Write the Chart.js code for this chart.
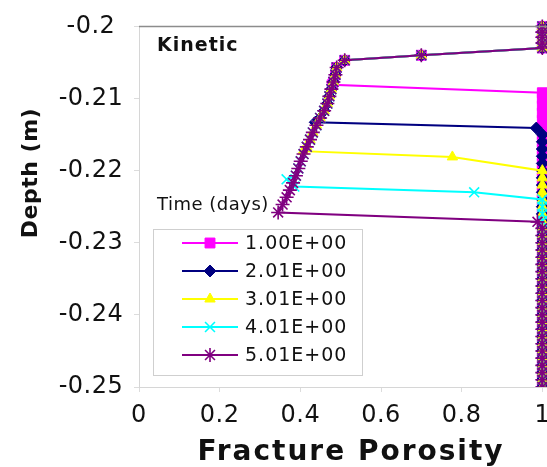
<!DOCTYPE html>
<html>
<head>
<meta charset="utf-8">
<title>Fracture Porosity - Kinetic</title>
<script src="https://cdn.jsdelivr.net/npm/chart.js"></script>
<style>
    html, body { margin: 0; padding: 0; overflow: hidden; background: #fff; }
    #wrap { width: 700px; height: 467px; }
</style>
</head>
<body>
<div id="wrap"><canvas id="porosityChart" width="700" height="467"></canvas></div>
<script>
// ===== Data =====
const seriesLabels = ['1.00E+00', '2.01E+00', '3.01E+00', '4.01E+00', '5.01E+00'];
const xTickValues = [0, 0.2, 0.4, 0.6, 0.8, 1, 1.2];
const yTickValues = [-0.25, -0.24, -0.23, -0.22, -0.21, -0.2];

// shared part near the top (all times overlap here)
const topPorosity = [1, 1, 1, 1, 1, 0.70, 0.51];
const topDepth = [-0.2000, -0.2008, -0.2015, -0.2023, -0.2030, -0.2040, -0.2047];

// shared sloping profile
const slantPorosity = [0.490, 0.487, 0.482, 0.477, 0.472, 0.467, 0.459, 0.449, 0.440, 0.431, 0.424,
    0.416, 0.408, 0.401, 0.395, 0.389, 0.382, 0.374, 0.366, 0.356, 0.345];
const slantDepth = [-0.2057, -0.2067, -0.2077, -0.2087, -0.2097, -0.2107, -0.2117, -0.2127, -0.2137, -0.2147, -0.2157,
    -0.2167, -0.2177, -0.2187, -0.2197, -0.2207, -0.2217, -0.2227, -0.2237, -0.2247, -0.2258];

// front of each time
const front1Porosity = [0.479, 1.0];
const front1Depth = [-0.2081, -0.2092];
const front2Porosity = [0.437, 0.985];
const front2Depth = [-0.2133, -0.2141];
const front3Porosity = [0.407, 0.777, 1.0];
const front3Depth = [-0.2173, -0.2181, -0.2200];
const front4Porosity = [0.366, 0.385, 0.831, 1.0];
const front4Depth = [-0.2212, -0.2222, -0.2230, -0.2240];
const front5Porosity = [0.988];
const front5Depth = [-0.2271];

// porosity = 1 below the front
const columnDepth = [-0.210, -0.211, -0.212, -0.213, -0.214, -0.215, -0.216, -0.217, -0.218, -0.219,
    -0.220, -0.221, -0.222, -0.223, -0.224, -0.225, -0.226, -0.227, -0.228, -0.229,
    -0.230, -0.231, -0.232, -0.233, -0.234, -0.235, -0.236, -0.237, -0.238, -0.239,
    -0.240, -0.241, -0.242, -0.243, -0.244, -0.245, -0.246, -0.247, -0.248, -0.249, -0.250];

const fronts = [
    [front1Porosity, front1Depth],
    [front2Porosity, front2Depth],
    [front3Porosity, front3Depth],
    [front4Porosity, front4Depth],
    [front5Porosity, front5Depth]
];

const colors = ['#ff00ff', '#000080', '#ffff00', '#00ffff', '#800080'];
const styles = ['rect', 'rectRot', 'triangle', 'crossRot', 'star'];
const radii = [7, 6, 6, 7, 7];

function buildPoints(frontPorosity, frontDepth) {
    const pts = [];
    topPorosity.forEach((p, i) => pts.push({ x: p, y: topDepth[i] }));
    slantDepth.forEach((d, i) => {
        if (d > frontDepth[0]) pts.push({ x: slantPorosity[i], y: d });
    });
    frontPorosity.forEach((p, i) => pts.push({ x: p, y: frontDepth[i] }));
    const last = frontDepth[frontDepth.length - 1];
    columnDepth.forEach(d => {
        if (d < last - 0.0004) pts.push({ x: 1, y: d });
    });
    return pts;
}

const datasets = seriesLabels.map((label, i) => ({
    label: label,
    data: buildPoints(fronts[i][0], fronts[i][1]),
    showLine: true,
    borderColor: colors[i],
    backgroundColor: colors[i],
    borderWidth: 2,
    pointStyle: styles[i],
    pointRadius: radii[i],
    pointBorderWidth: (styles[i] === 'crossRot' || styles[i] === 'star') ? 1.6 : 1,
    order: seriesLabels.length - 1 - i,
    clip: { left: 10, top: 10, right: 10, bottom: 0 }
}));

// ===== Extra text, legend and frame =====
const decorPlugin = {
    id: 'decor',
    beforeDraw(chart) {
        chart.ctx.letterSpacing = '0.5px';
    },
    afterDatasetsDraw(chart) {
        const ctx = chart.ctx;
        const area = chart.chartArea;
        ctx.save();

        // top frame line
        ctx.strokeStyle = '#8c8c8c';
        ctx.lineWidth = 1.5;
        ctx.beginPath();
        ctx.moveTo(area.left, area.top);
        ctx.lineTo(area.right, area.top);
        ctx.stroke();

        ctx.fillStyle = '#111';
        ctx.textBaseline = 'middle';
        ctx.textAlign = 'left';
        ctx.letterSpacing = '1px';
        ctx.font = 'bold 19px "DejaVu Sans"';
        ctx.fillText('Kinetic', 157, 46);

        ctx.font = '18px "DejaVu Sans"';
        ctx.letterSpacing = '0.5px';
        ctx.fillText('Time (days)', 157, 205);

        // legend box
        ctx.fillStyle = '#fff';
        ctx.fillRect(153, 229, 209, 146);
        ctx.strokeStyle = '#cfcfcf';
        ctx.lineWidth = 1;
        ctx.strokeRect(153.5, 229.5, 209, 146);

        chart.data.datasets.forEach((ds, i) => {
            const y = 243 + i * 28;
            ctx.strokeStyle = ds.borderColor;
            ctx.fillStyle = ds.backgroundColor;
            ctx.lineWidth = 2;
            ctx.beginPath();
            ctx.moveTo(182, y);
            ctx.lineTo(238, y);
            ctx.stroke();
            ctx.lineWidth = ds.pointBorderWidth;
            if (Chart.helpers && Chart.helpers.drawPoint) {
                Chart.helpers.drawPoint(ctx, {
                    pointStyle: ds.pointStyle,
                    radius: ds.pointRadius,
                    borderWidth: ds.pointBorderWidth,
                    rotation: 0
                }, 210, y);
            }
            ctx.fillStyle = '#111';
            ctx.font = '19px "DejaVu Sans"';
            ctx.letterSpacing = '1px';
            ctx.fillText(ds.label, 245, y + 1);
        });

        // axis titles
        ctx.fillStyle = '#111';
        ctx.textAlign = 'center';
        ctx.textBaseline = 'alphabetic';
        ctx.font = 'bold 28px "DejaVu Sans"';
        ctx.letterSpacing = '2px';
        ctx.fillText('Fracture Porosity', 351, 460);

        ctx.translate(31, 173);
        ctx.rotate(-Math.PI / 2);
        ctx.textBaseline = 'middle';
        ctx.font = 'bold 22px "DejaVu Sans"';
        ctx.letterSpacing = '0.5px';
        ctx.fillText('Depth (m)', 0, 0);
        ctx.restore();
    }
};

document.addEventListener('DOMContentLoaded', function() {
    Chart.defaults.font.family = '"DejaVu Sans", sans-serif';
    Chart.defaults.color = '#111';

    new Chart(document.getElementById('porosityChart'), {
        type: 'scatter',
        data: { datasets: datasets },
        options: {
            responsive: false,
            animation: false,
            layout: { padding: { top: 20, right: 77, left: 0, bottom: 0 } },
            plugins: {
                legend: { display: false },
                tooltip: { enabled: false }
            },
            scales: {
                x: {
                    type: 'linear',
                    min: 0,
                    max: 1.2,
                    afterFit: s => { s.height = 80; },
                    afterBuildTicks: s => { s.ticks = xTickValues.map(v => ({ value: v })); },
                    ticks: {
                        padding: 9,
                        font: { size: 24 },
                        callback: v => String(+Number(v).toFixed(1))
                    },
                    grid: { drawOnChartArea: false, color: '#dcdcdc', tickLength: 5 },
                    border: { color: '#d6d6d6' }
                },
                y: {
                    type: 'linear',
                    min: -0.25,
                    max: -0.2,
                    afterFit: s => { s.width = 139; },
                    afterBuildTicks: s => { s.ticks = yTickValues.map(v => ({ value: v })); },
                    ticks: {
                        padding: 12,
                        crossAlign: 'center',
                        font: { size: 24 },
                        callback: v => String(+Number(v).toFixed(2))
                    },
                    grid: { drawOnChartArea: false, color: '#dcdcdc', tickLength: 5 },
                    border: { color: '#d6d6d6' }
                }
            }
        },
        plugins: [decorPlugin]
    });
});
</script>
</body>
</html>
